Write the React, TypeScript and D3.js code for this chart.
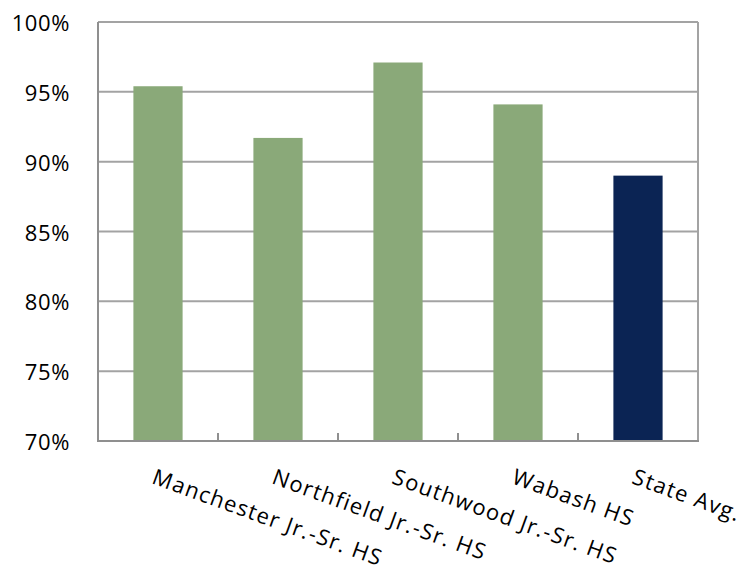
import React from "react";
import * as d3 from "d3";

const categories = [
  "Manchester Jr.-Sr. HS",
  "Northfield Jr.-Sr. HS",
  "Southwood Jr.-Sr. HS",
  "Wabash HS",
  "State Avg.",
];
const values = [0.954, 0.917, 0.971, 0.941, 0.890];
const barColors = ["#8aa979", "#8aa979", "#8aa979", "#8aa979", "#0b2454"];
const yTicks = [0.7, 0.75, 0.8, 0.85, 0.9, 0.95, 1.0];

const W = 755;
const H = 567;
const left = 98;
const right = 698;
const top = 22;
const bottom = 441;
const FONT = "'Open Sans', 'Noto Sans', sans-serif";

export default function App() {
  const x = d3.scaleBand<string>().domain(categories).range([left, right]).padding(0);
  const y = d3.scaleLinear().domain([0.7, 1.0]).range([bottom, top]);
  const barW = x.bandwidth() * 0.41;
  const fmt = d3.format(".0%");
  const boundaries = categories.map((c) => x(c)!).slice(1);

  return (
    <svg
      width={W}
      height={H}
      style={{ position: "absolute", left: 0, top: 0, background: "#fff" }}
    >
      {yTicks.map((t) => (
        <line
          key={"g" + t}
          x1={left}
          x2={right}
          y1={y(t)}
          y2={y(t)}
          stroke="#a3a3a3"
          strokeWidth={2}
        />
      ))}
      {categories.map((c, i) => (
        <rect
          key={c}
          x={x(c)! + x.bandwidth() / 2 - barW / 2}
          y={y(values[i])}
          width={barW}
          height={bottom - y(values[i])}
          fill={barColors[i]}
        />
      ))}
      <line x1={left} x2={left} y1={top} y2={bottom} stroke="#8f8f8f" strokeWidth={2} />
      <line x1={right} x2={right} y1={top} y2={bottom} stroke="#a3a3a3" strokeWidth={2} />
      <line x1={left - 1} x2={right + 1} y1={bottom} y2={bottom} stroke="#8f8f8f" strokeWidth={2} />
      {boundaries.map((bx, i) => (
        <line key={"t" + i} x1={bx} x2={bx} y1={bottom} y2={bottom - 8} stroke="#8f8f8f" strokeWidth={2} />
      ))}
      {yTicks.map((t) => (
        <text
          key={"l" + t}
          x={70}
          y={y(t)}
          textAnchor="end"
          dominantBaseline="central"
          fontFamily={FONT}
          fontSize={22}
          letterSpacing={0.6}
          fill="#000"
        >
          {fmt(t)}
        </text>
      ))}
      {categories.map((c) => (
        <text
          key={"x" + c}
          transform={`translate(${x(c)! + x.bandwidth() / 2 - 2},469) rotate(20)`}
          y={15}
          textAnchor="start"
          fontFamily={FONT}
          fontSize={22}
          letterSpacing={1.3}
          fill="#000"
        >
          {c}
        </text>
      ))}
    </svg>
  );
}
